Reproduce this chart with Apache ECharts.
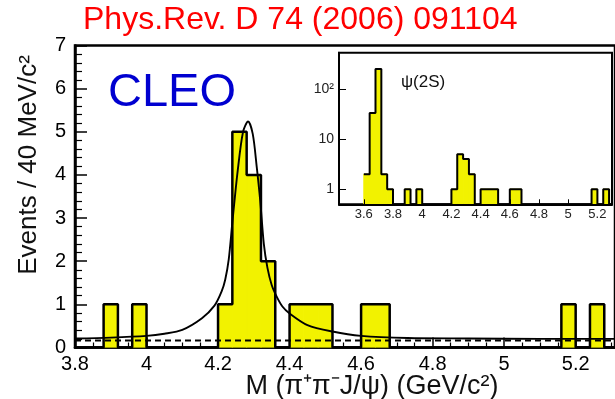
<!DOCTYPE html>
<html><head><meta charset="utf-8">
<script src="https://cdn.jsdelivr.net/npm/echarts@6/dist/echarts.min.js"></script>
<style>html,body{margin:0;padding:0;background:#fff}#c{width:615px;height:399px}</style>
</head><body><div id="c"></div>
<script>
// ---- data ----
const BIN = 0.04;
const binLow = [3.80,3.84,3.88,3.92,3.96,4.00,4.04,4.08,4.12,4.16,4.20,4.24,4.28,4.32,4.36,4.40,4.44,4.48,4.52,4.56,4.60,4.64,4.68,4.72,4.76,4.80,4.84,4.88,4.92,4.96,5.00,5.04,5.08,5.12,5.16,5.20,5.24];
const counts = [0,0,1,0,1,0,0,0,0,0,1,5,4,2,0,1,1,1,0,0,1,1,0,0,0,0,0,0,0,0,0,0,0,0,1,0,1];
const insetBinLow = [3.60,3.64,3.68,3.72,3.76,3.80,3.84,3.88,3.92,3.96,4.00,4.04,4.08,4.12,4.16,4.20,4.24,4.28,4.32,4.36,4.40,4.44,4.48,4.52,4.56,4.60,4.64,4.68,4.72,4.76,4.80,4.84,4.88,4.92,4.96,5.00,5.04,5.08,5.12,5.16,5.20,5.24];
const insetCounts = [2,33,250,2,1,0,0,1,0,1,0,0,0,0,0,1,5,4,2,0,1,1,1,0,0,1,1,0,0,0,0,0,0,0,0,0,0,0,0,1,0,1];
const fitX = [3.80,3.90,4.00,4.05,4.10,4.155,4.19,4.21,4.22,4.23,4.24,4.255,4.27,4.284,4.297,4.308,4.318,4.328,4.338,4.35,4.364,4.38,4.40,4.45,4.52,4.60,4.73,4.90,5.10,5.31];
const fitY = [0.21,0.23,0.27,0.32,0.41,0.68,0.97,1.30,1.57,2.05,2.90,4.10,5.00,5.24,4.95,4.20,3.40,2.40,1.85,1.45,1.18,0.95,0.79,0.52,0.37,0.27,0.22,0.21,0.20,0.20];
const bkgX = [3.80,5.31];
const bkgY = [0.16,0.16];
const mainXTicks = [3.8,4,4.2,4.4,4.6,4.8,5,5.2];
const insetXTicks = [3.6,3.8,4,4.2,4.4,4.6,4.8,5,5.2];
const insetYLabels = {'1':'1','10':'10','100':'10²'};

const FONT = '"Liberation Sans", Arial, Helvetica, sans-serif';
const YELLOW = '#f2f200';

function binRows(lows, vals){ return lows.map((x,i)=>[x, x+BIN, vals[i]]); }
function outline(lows, vals, floor, xmax){
  const pts = lows.map((x,i)=>[x, vals[i]>0 ? vals[i] : floor]);
  pts.push([lows[lows.length-1]+BIN, floor]);
  pts.push([xmax, floor]);
  return pts;
}
function barRender(floor){
  return function(params, api){
    const v = api.value(2);
    if(!(v>0)) return null;
    const a = api.coord([api.value(0), v]);
    const b = api.coord([api.value(1), floor]);
    return {type:'rect', shape:{x:a[0], y:a[1], width:b[0]-a[0], height:b[1]-a[1]},
            style:{fill:YELLOW, stroke:YELLOW, lineWidth:1}};
  };
}

const chart = echarts.init(document.getElementById('c'), null, {renderer:'canvas'});
chart.setOption({
  animation:false,
  backgroundColor:'#fff',
  grid:[
    {left:75, right:-4, top:45.5, bottom:51.5, show:true, borderColor:'#000', borderWidth:2.5, backgroundColor:'transparent'},
    {left:339, right:3, top:52.7, bottom:194.7, show:true, borderColor:'#000', borderWidth:2, backgroundColor:'#fff', z:5}
  ],
  xAxis:[
    {type:'value', gridIndex:0, min:3.8, max:5.31, interval:0.2,
     axisLine:{show:true, onZero:false, lineStyle:{color:'#000', width:2.5}},
     axisTick:{show:true, inside:true, length:10, customValues:mainXTicks, lineStyle:{color:'#000', width:1.5}},
     minorTick:{show:true, splitNumber:4, length:5, lineStyle:{color:'#000', width:1.2}},
     axisLabel:{color:'#000', fontSize:20, fontFamily:FONT, margin:7, customValues:mainXTicks},
     splitLine:{show:false}},
    {type:'value', gridIndex:1, min:3.43, max:5.30, z:7,
     axisLine:{show:true, onZero:false, lineStyle:{color:'#000', width:2}},
     axisTick:{show:true, inside:true, length:5, customValues:insetXTicks, lineStyle:{color:'#000', width:1}},
     axisLabel:{color:'#222', fontSize:13, fontFamily:FONT, margin:4, customValues:insetXTicks},
     splitLine:{show:false}},
  ],
  yAxis:[
    {type:'value', gridIndex:0, min:0, max:7, interval:1,
     axisLine:{show:true, lineStyle:{color:'#000', width:2.5}},
     axisTick:{show:true, inside:true, length:12, lineStyle:{color:'#000', width:1.5}},
     minorTick:{show:true, splitNumber:5, length:7, lineStyle:{color:'#000', width:1.2}},
     axisLabel:{color:'#000', fontSize:20, fontFamily:FONT, margin:9},
     splitLine:{show:false}},
    {type:'log', gridIndex:1, logBase:10, min:0.5, max:530, z:7,
     axisLine:{show:true, lineStyle:{color:'#000', width:2}},
     axisTick:{show:true, inside:true, length:7, lineStyle:{color:'#000', width:1}},
     axisLabel:{color:'#222', fontSize:14, fontFamily:FONT, margin:5,
       formatter:v=>{const k=String(Math.round(v*1000)/1000); return insetYLabels[k]||'';}},
     splitLine:{show:false}}
  ],
  series:[
    {type:'custom', xAxisIndex:0, yAxisIndex:0, z:2, clip:true,
     renderItem:barRender(0), encode:{x:[0,1], y:2}, data:binRows(binLow, counts)},
    {type:'line', xAxisIndex:0, yAxisIndex:0, z:3, step:'end', symbol:'none', clip:true,
     lineStyle:{color:'#000', width:2.5}, data:outline(binLow, counts, 0, 5.31)},
    {type:'line', xAxisIndex:0, yAxisIndex:0, z:4, symbol:'none', clip:true,
     lineStyle:{color:'#000', width:2, type:[6,4]}, data:bkgX.map((x,i)=>[x,bkgY[i]])},
    {type:'line', xAxisIndex:0, yAxisIndex:0, z:4, symbol:'none', smooth:0.3, clip:true,
     lineStyle:{color:'#000', width:1.9}, data:fitX.map((x,i)=>[x,fitY[i]])},
    {type:'custom', xAxisIndex:1, yAxisIndex:1, z:6, clip:true,
     renderItem:barRender(0.5), encode:{x:[0,1], y:2}, data:binRows(insetBinLow, insetCounts)},
    {type:'line', xAxisIndex:1, yAxisIndex:1, z:7, step:'end', symbol:'none', clip:true,
     lineStyle:{color:'#000', width:2}, data:outline(insetBinLow, insetCounts, 0.5, 5.30)}
  ],
  graphic:[
    {type:'text', x:83, y:20, z:20, style:{text:'Phys.Rev. D 74 (2006) 091104', fill:'#ff0000', font:'32px '+FONT, textAlign:'left', textVerticalAlign:'middle', verticalAlign:'middle'}},
    {type:'text', x:108, y:93, z:20, style:{text:'CLEO', fill:'#0000d0', font:'47px '+FONT, textAlign:'left', textVerticalAlign:'middle', verticalAlign:'middle'}},
    {type:'text', x:401, y:82, z:20, style:{text:'ψ(2S)', fill:'#111', font:'17px '+FONT, textAlign:'left', textVerticalAlign:'middle', verticalAlign:'middle'}},
    {type:'text', x:29, y:165, rotation:Math.PI/2, z:20, style:{text:'Events / 40 MeV/c²', fill:'#111', font:'26px '+FONT, textAlign:'center', textVerticalAlign:'middle', verticalAlign:'middle'}},
    {type:'text', x:372, y:387, z:20, style:{text:'M (π⁺π⁻J/ψ) (GeV/c²)', fill:'#111', font:'27px '+FONT, textAlign:'center', textVerticalAlign:'middle', verticalAlign:'middle'}}
  ]
});
</script></body></html>
